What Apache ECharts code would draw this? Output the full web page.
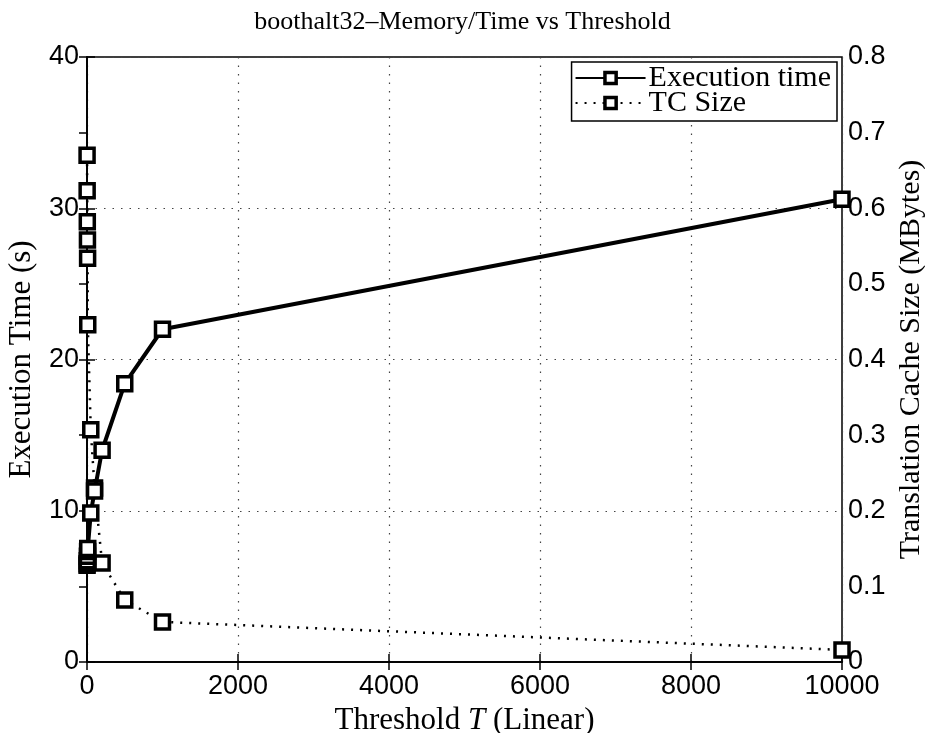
<!DOCTYPE html>
<html>
<head>
<meta charset="utf-8">
<script src="https://cdn.jsdelivr.net/npm/echarts@6/dist/echarts.min.js"></script>
<style>
  html, body { margin: 0; padding: 0; background: #fff; }
  #chart { width: 925px; height: 733px; }
</style>
</head>
<body>
<div id="chart"></div>
<script>
// Thresholds tested (x axis)
var thresholds = [1, 2, 4, 6, 8, 10, 50, 100, 200, 500, 1000, 10000];
// Execution time in seconds (left axis)
var execTime = [6.4, 6.5, 6.7, 7.0, 7.3, 7.5, 9.85, 11.3, 14.0, 18.4, 22.0, 30.6];
// Translation cache size in MBytes (right axis)
var tcSize = [0.67, 0.623, 0.582, 0.558, 0.534, 0.446, 0.307, 0.23, 0.131, 0.082, 0.053, 0.016];

var xTicks = [0, 2000, 4000, 6000, 8000, 10000];
var leftTicks = [0, 10, 20, 30, 40];
var rightTicks = [0, 0.1, 0.2, 0.3, 0.4, 0.5, 0.6, 0.7, 0.8];

var serif = '"Liberation Serif", "DejaVu Serif", serif';
var sans = '"Liberation Sans", Arial, sans-serif';

function pairs(xs, ys) {
  return xs.map(function (x, i) { return [x, ys[i]]; });
}

var markerStyle = { color: '#fff', borderColor: '#000', borderWidth: 3.5 };
var tickLabel = { color: '#000', fontFamily: sans, fontSize: 27 };
var gridLine = { show: true, lineStyle: { color: '#444', type: [1.5, 7], width: 1.2 } };
var axisLineStyle = { show: true, lineStyle: { color: '#000', width: 1.5 } };
var innerTick = { show: true, inside: true, length: 8, lineStyle: { color: '#000', width: 1.5 } };

var chart = echarts.init(document.getElementById('chart'), null, { renderer: 'canvas' });
chart.setOption({
  backgroundColor: '#fff',
  animation: false,
  title: {
    text: 'boothalt32\u2013Memory/Time vs Threshold',
    left: 'center',
    top: 4,
    textStyle: { fontFamily: serif, fontSize: 26, fontWeight: 'normal', color: '#000' }
  },
  grid: {
    left: 87, right: 83, top: 57, bottom: 71,
    outerBoundsMode: 'none',
    containLabel: false,
    show: true, borderColor: '#000', borderWidth: 1.5, backgroundColor: 'transparent'
  },
  legend: {
    right: 88, top: 62,
    orient: 'vertical',
    backgroundColor: '#fff',
    borderColor: '#000', borderWidth: 1.5,
    padding: [1, 6, 3, 3],
    itemGap: -5,
    itemWidth: 70, itemHeight: 14,
    itemStyle: { borderWidth: 3.5, borderColor: '#000', color: '#fff' },
    textStyle: { fontFamily: serif, fontSize: 30, color: '#000', padding: [0, 0, 0, -2] },
    data: ['Execution time', 'TC Size']
  },
  xAxis: [{
    type: 'value', min: xTicks[0], max: xTicks[xTicks.length - 1], interval: 2000,
    name: '{n|Threshold }{i|T}{n| (Linear)}',
    nameLocation: 'middle', nameGap: 40,
    nameTextStyle: {
      rich: {
        n: { fontFamily: serif, fontSize: 31, color: '#000' },
        i: { fontFamily: serif, fontSize: 31, fontStyle: 'italic', color: '#000' }
      }
    },
    axisLine: axisLineStyle,
    axisTick: innerTick,
    axisLabel: Object.assign({ margin: 11, formatter: function (v) { return String(v); } }, tickLabel),
    splitLine: gridLine
  }, {
    type: 'value', position: 'top', min: xTicks[0], max: xTicks[xTicks.length - 1], interval: 2000,
    axisLine: axisLineStyle,
    axisTick: innerTick,
    axisLabel: { show: false },
    splitLine: { show: false }
  }],
  yAxis: [{
    type: 'value', min: leftTicks[0], max: leftTicks[leftTicks.length - 1], interval: 10,
    name: 'Execution Time (s)',
    nameLocation: 'middle', nameGap: 50, nameRotate: 90,
    nameTextStyle: { fontFamily: serif, fontSize: 31, color: '#000' },
    axisLine: axisLineStyle,
    axisTick: innerTick,
    axisLabel: Object.assign({ margin: 8 }, tickLabel),
    splitLine: gridLine
  }, {
    type: 'value', position: 'right', min: rightTicks[0], max: rightTicks[rightTicks.length - 1], interval: 0.1,
    name: 'Translation Cache Size (MBytes)',
    nameLocation: 'middle', nameGap: 52, nameRotate: 90,
    nameTextStyle: { fontFamily: serif, fontSize: 30, color: '#000' },
    axisLine: axisLineStyle,
    axisTick: innerTick,
    axisLabel: Object.assign({ margin: 6, formatter: function (v) { return String(+v.toFixed(1)); } }, tickLabel),
    splitLine: { show: false }
  }],
  series: [{
    name: 'TC Size',
    type: 'line',
    xAxisIndex: 0, yAxisIndex: 1,
    data: pairs(thresholds, tcSize),
    symbol: 'rect', symbolSize: 14,
    lineStyle: { color: '#000', width: 2.5, type: [2, 7] },
    itemStyle: markerStyle,
    z: 2
  }, {
    name: 'Execution time',
    type: 'line',
    xAxisIndex: 0, yAxisIndex: 0,
    data: pairs(thresholds, execTime),
    symbol: 'rect', symbolSize: 14,
    lineStyle: { color: '#000', width: 4 },
    itemStyle: markerStyle,
    z: 3
  }]
});
</script>
</body>
</html>
